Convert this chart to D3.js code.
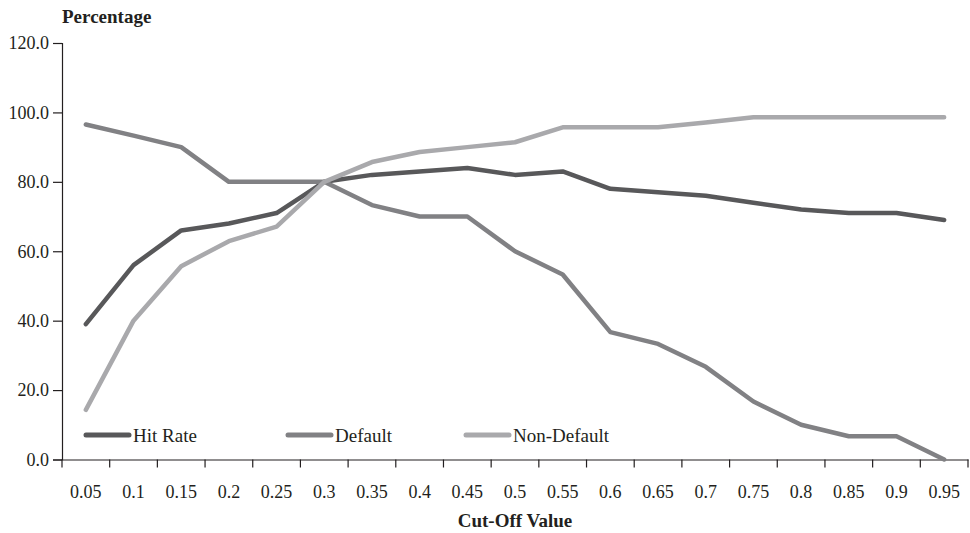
<!DOCTYPE html>
<html>
<head>
<meta charset="utf-8">
<script src="https://cdn.jsdelivr.net/npm/d3@7"></script>
<style>
  body { margin: 0; background: #fff; }
  text { font-family: "Liberation Serif", "DejaVu Serif", serif; fill: #231f20; }
</style>
</head>
<body>
<div id="chart"></div>
<script>
// cut-off values (x categories)
const cutOffs = ["0.05", "0.1", "0.15", "0.2", "0.25", "0.3", "0.35", "0.4", "0.45", "0.5",
  "0.55", "0.6", "0.65", "0.7", "0.75", "0.8", "0.85", "0.9", "0.95"];

const hitRate = [39, 56, 66, 68, 71, 80, 82, 83, 84, 82, 83, 78, 77, 76, 74, 72, 71, 71, 69];
const defaultRate = [96.5, 93.3, 90, 80, 80, 80, 73.3, 70, 70, 60, 53.3, 36.7, 33.3, 26.7, 16.7, 10, 6.7, 6.7, 0];
const nonDefault = [14.3, 40, 55.7, 62.9, 67.1, 80, 85.7, 88.6, 90, 91.4, 95.7, 95.7, 95.7, 97.1, 98.6, 98.6, 98.6, 98.6, 98.6];

const yTicks = [0, 20, 40, 60, 80, 100, 120];

const seriesNames = ["Hit Rate", "Default", "Non-Default"];
const seriesColors = ["#58585a", "#818184", "#a9a9ac"];

const series = [hitRate, defaultRate, nonDefault].map((vals, i) => ({
  name: seriesNames[i],
  colour: seriesColors[i],
  values: vals.map((v, j) => ({ x: cutOffs[j], y: v }))
}));

const width = 970, height = 533;
const margin = { top: 43, right: 2, bottom: 73.5, left: 62 };
const innerW = width - margin.left - margin.right;
const innerH = height - margin.top - margin.bottom;

const svg = d3.select("#chart").append("svg")
  .attr("width", width)
  .attr("height", height);

const chart = svg.append("g")
  .attr("transform", `translate(${margin.left},${margin.top})`);

const xScale = d3.scaleBand().domain(cutOffs).range([0, innerW]);
const yScale = d3.scaleLinear().domain([0, 120]).range([innerH, 0]);

// y axis
const yAxis = d3.axisLeft(yScale).tickValues(yTicks).tickFormat(d3.format(".1f")).tickSize(9).tickPadding(4);
const yAxisG = chart.append("g").call(yAxis);
yAxisG.select(".domain").attr("stroke", "#231f20").attr("stroke-width", 1.2);
yAxisG.selectAll(".tick line").attr("stroke", "#231f20").attr("stroke-width", 1.2);
yAxisG.selectAll(".tick text").style("font-size", "18px").style("font-family", null).attr("fill", "#231f20");

// x axis: ticks between categories
const xAxis = d3.axisBottom(xScale).tickSize(0).tickPadding(26);
const xAxisG = chart.append("g").attr("transform", `translate(0,${innerH})`).call(xAxis);
xAxisG.select(".domain").attr("stroke", "#231f20").attr("stroke-width", 1.2);
xAxisG.selectAll(".tick text").style("font-size", "18px").style("font-family", null).attr("fill", "#231f20");

const boundaries = cutOffs.map(c => xScale(c)).concat([innerW]);
xAxisG.selectAll(".bound").data(boundaries).enter().append("line")
  .attr("class", "bound")
  .attr("x1", d => d).attr("x2", d => d)
  .attr("y1", 0).attr("y2", 8)
  .attr("stroke", "#231f20").attr("stroke-width", 1.2);

// lines
const line = d3.line()
  .x(d => xScale(d.x) + xScale.bandwidth() / 2)
  .y(d => yScale(d.y));

chart.selectAll(".series").data(series).enter().append("path")
  .attr("class", "series")
  .attr("d", d => line(d.values))
  .attr("fill", "none")
  .attr("stroke", d => d.colour)
  .attr("stroke-width", 4.5)
  .attr("stroke-linecap", "round")
  .attr("stroke-linejoin", "round");

// legend
const legendX = [86, 288, 466];
const legend = svg.selectAll(".legend").data(series).enter().append("g")
  .attr("class", "legend")
  .attr("transform", (d, i) => `translate(${legendX[i]},435)`);

legend.append("line")
  .attr("x1", 0).attr("x2", 43)
  .attr("stroke", d => d.colour)
  .attr("stroke-width", 5)
  .attr("stroke-linecap", "round");

legend.append("text")
  .attr("x", 47).attr("y", 6.5)
  .style("font-size", "19px")
  .text(d => d.name);

// axis titles
svg.append("text")
  .attr("x", 62).attr("y", 23)
  .style("font-size", "19px").style("font-weight", "bold")
  .text("Percentage");

svg.append("text")
  .attr("x", 515).attr("y", 527)
  .attr("text-anchor", "middle")
  .style("font-size", "19px").style("font-weight", "bold")
  .text("Cut-Off Value");
</script>
</body>
</html>
